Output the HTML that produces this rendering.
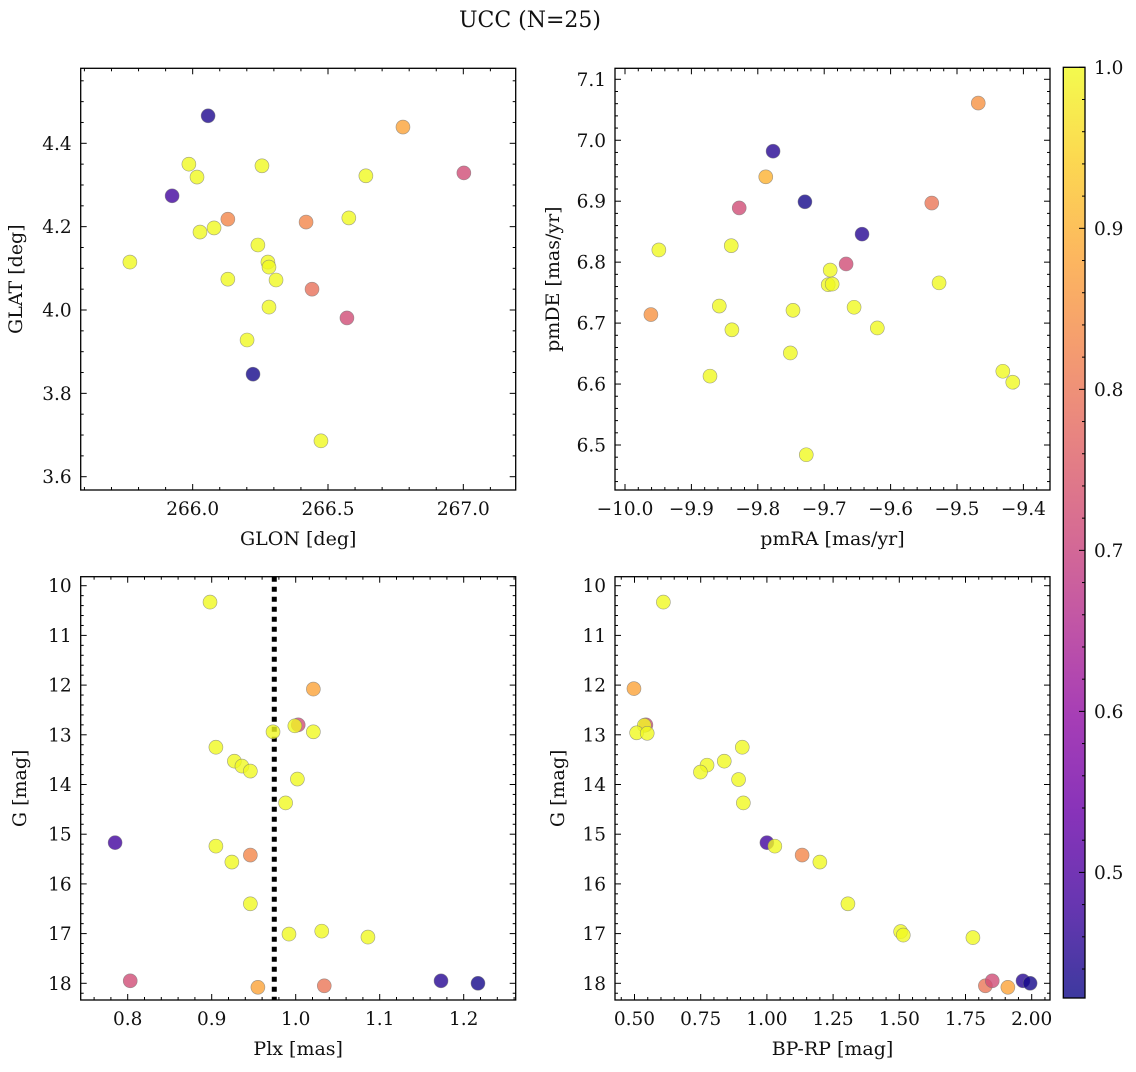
<!DOCTYPE html>
<html><head><meta charset="utf-8"><style>
html,body{margin:0;padding:0;background:#fff;}
svg text{font-family:"DejaVu Serif","Liberation Serif",serif;fill:#111;}
</style></head><body>
<svg id="fig" width="1136" height="1067" viewBox="0 0 1136 1067" xmlns="http://www.w3.org/2000/svg">
<text x="530" y="27" font-size="22" text-anchor="middle">UCC (N=25)</text>
<defs><linearGradient id="cbgrad" x1="0" y1="1" x2="0" y2="0"></linearGradient></defs>
</svg>
<script>
// ---- data ----
const glon = [266.057,265.924,265.986,266.016,265.768,266.027,266.079,266.130,266.256,266.241,266.130,266.278,266.282,266.308,266.282,266.201,266.223,266.419,266.441,266.577,266.640,266.570,266.474,266.777,267.002];
const glat = [4.466,4.274,4.350,4.319,4.115,4.187,4.197,4.218,4.346,4.156,4.074,4.115,4.103,4.072,4.007,3.928,3.846,4.211,4.050,4.221,4.322,3.981,3.686,4.439,4.329];
const probGal = [0.44,0.48,1,1,1,1,1,0.83,1,1,1,1,1,1,1,1,0.43,0.83,0.79,1,1,0.72,1,0.88,0.72];

const pmra = [-9.468,-9.777,-9.788,-9.729,-9.828,-9.538,-9.643,-9.949,-9.840,-9.691,-9.667,-9.694,-9.688,-9.527,-9.858,-9.655,-9.747,-9.961,-9.620,-9.839,-9.751,-9.431,-9.416,-9.872,-9.727];
const pmde = [7.061,6.982,6.940,6.899,6.889,6.897,6.846,6.820,6.827,6.787,6.797,6.763,6.764,6.766,6.728,6.726,6.721,6.714,6.692,6.689,6.651,6.621,6.603,6.613,6.484];
const probPm = [0.85,0.45,0.9,0.43,0.72,0.8,0.45,1,1,1,0.72,1,1,1,1,1,1,0.85,1,1,1,1,1,1,1];

const plx = [0.898,1.021,1.003,0.999,1.021,0.973,0.905,0.927,0.936,0.946,1.002,0.988,0.785,0.905,0.946,0.924,0.946,0.992,1.031,1.086,0.803,0.955,1.034,1.173,1.217];
const gPlx = [10.33,12.08,12.80,12.82,12.94,12.94,13.25,13.53,13.63,13.73,13.89,14.37,15.17,15.24,15.42,15.56,16.40,17.01,16.95,17.07,17.95,18.08,18.05,17.95,18.00];
const probPlx = [1,0.88,0.72,1,1,1,1,1,1,1,1,1,0.48,1,0.83,1,1,1,1,1,0.72,0.88,0.8,0.45,0.43];
const plxMedian = 0.9745;

const bprp = [0.609,0.498,0.543,0.537,0.508,0.548,0.907,0.839,0.774,0.749,0.893,0.911,1.000,1.030,1.133,1.200,1.306,1.505,1.515,1.778,1.825,1.851,1.910,1.967,1.994];
const gCmd = [10.33,12.07,12.80,12.81,12.96,12.97,13.25,13.53,13.61,13.75,13.90,14.37,15.17,15.24,15.42,15.56,16.40,16.96,17.03,17.08,18.05,17.95,18.08,17.95,18.00];
const probCmd = [1,0.88,0.72,1,1,1,1,1,1,1,1,1,0.48,1,0.83,1,1,1,1,1,0.8,0.72,0.88,0.45,0.43];

const ticksGlon = [266.0,266.5,267.0];
const ticksGlat = [3.6,3.8,4.0,4.2,4.4];
const ticksPmra = [-10.0,-9.9,-9.8,-9.7,-9.6,-9.5,-9.4];
const ticksPmde = [6.5,6.6,6.7,6.8,6.9,7.0,7.1];
const ticksPlx = [0.8,0.9,1.0,1.1,1.2];
const ticksG = [10,11,12,13,14,15,16,17,18];
const ticksBprp = [0.50,0.75,1.00,1.25,1.50,1.75,2.00];
const ticksCb = [0.5,0.6,0.7,0.8,0.9,1.0];
const vmin = 0.422, vmax = 1.0;

// ---- helpers ----
const NS = "http://www.w3.org/2000/svg";
const svg = document.getElementById('fig');
function mk(tag, attrs, parent){ const e=document.createElementNS(NS,tag); for(const k in attrs) e.setAttribute(k,attrs[k]); (parent||svg).appendChild(e); return e; }
const plasma = [[13,8,135],[65,4,157],[106,0,168],[143,13,164],[177,42,144],[204,71,120],[225,100,98],[242,132,75],[252,166,54],[252,206,37],[240,249,33]];
function cmap(p){ let t=(p-vmin)/(vmax-vmin); t=Math.max(0,Math.min(1,t)); const f=t*10, i=Math.min(9,Math.floor(f)), r=f-i; const a=plasma[i], b=plasma[i+1];
  return 'rgb('+[0,1,2].map(k=>Math.round(a[k]+(b[k]-a[k])*r)).join(',')+')'; }
const TF = 18.5, LF = 19;

function panel(o){
  const g = mk('g',{});
  
  
  const sx = v => o.x0 + (v-o.xmin)/(o.xmax-o.xmin)*(o.x1-o.x0);
  const sy = o.yinv ? (v => o.y0 + (v-o.ymin)/(o.ymax-o.ymin)*(o.y1-o.y0)) : (v => o.y1 - (v-o.ymin)/(o.ymax-o.ymin)*(o.y1-o.y0));
  const tg = mk('g',{stroke:'#000','stroke-width':1},g);
  function rng(a,b,s){ const r=[]; const st=Math.ceil(a/s-1e-6); for(let k=st; k*s<=b+1e-9; k++) r.push(k*s); return r; }
  rng(o.xmin,o.xmax,o.xminor).forEach(v=>{ const X=sx(v); const maj=o.xt.some(t=>Math.abs(t-v)<1e-6); const L=maj?6:3;
    mk('line',{x1:X,x2:X,y1:o.y1,y2:o.y1-L},tg); mk('line',{x1:X,x2:X,y1:o.y0,y2:o.y0+L},tg); });
  rng(o.ymin,o.ymax,o.yminor).forEach(v=>{ const Y=sy(v); const maj=o.yt.some(t=>Math.abs(t-v)<1e-6); const L=maj?6:3;
    mk('line',{x1:o.x0,x2:o.x0+L,y1:Y,y2:Y},tg); mk('line',{x1:o.x1,x2:o.x1-L,y1:Y,y2:Y},tg); });
  o.xt.forEach(v=>{ const t=mk('text',{x:sx(v),y:o.y1+25,'font-size':TF,'text-anchor':'middle'},g);
     
    t.textContent=(v<0?'\u2212':'')+Math.abs(v).toFixed(o.xdec); });
  o.yt.forEach(v=>{ const t=mk('text',{x:o.x0-9,y:sy(v)+6.5,'font-size':TF,'text-anchor':'end'},g);
     
    t.textContent=v.toFixed(o.ydec); });
  const xl=mk('text',{x:(o.x0+o.x1)/2,y:o.y1+55,'font-size':LF,'text-anchor':'middle'},g);
    xl.textContent=o.xlabel;
  const yl=mk('text',{x:0,y:0,'font-size':LF,'text-anchor':'middle',transform:'translate('+o.ylx+','+((o.y0+o.y1)/2)+') rotate(-90)'},g);
    yl.textContent=o.ylabel;
  if(o.vline!==undefined){ const l=mk('line',{x1:sx(o.vline),x2:sx(o.vline),y1:o.y0,y2:o.y1,stroke:'#000','stroke-width':5,'stroke-dasharray':'5 5'},g);
      }
  o.xs.forEach((v,i)=>{ const c=mk('circle',{cx:sx(v),cy:sy(o.ys[i]),r:7,fill:cmap(o.cs[i]),'fill-opacity':0.8,stroke:'#777','stroke-opacity':0.7,'stroke-width':0.6},g);
      });
  const fr=mk('rect',{x:o.x0,y:o.y0,width:o.x1-o.x0,height:o.y1-o.y0,fill:'none',stroke:'#000','stroke-width':1.3},g);
   
}

panel({name:'glon-glat-panel',x0:80.7,x1:515.7,y0:68.3,y1:490,xmin:266-112/270.7,xmax:267+52.4/270.7,ymin:3.6-13.3/416.7,ymax:4.4+75/416.7,
  xt:ticksGlon,yt:ticksGlat,xminor:0.1,yminor:0.05,xdec:1,ydec:1,xlabel:'GLON [deg]',ylabel:'GLAT [deg]',ylx:22,xs:glon,ys:glat,cs:probGal});
panel({name:'pm-panel',x0:615,x1:1050,y0:68.3,y1:490,xmin:-10-10/664,xmax:-10+425/664,ymin:6.5-45/609.5,ymax:7.1+11/609.5,
  xt:ticksPmra,yt:ticksPmde,xminor:0.02,yminor:0.02,xdec:1,ydec:1,xlabel:'pmRA [mas/yr]',ylabel:'pmDE [mas/yr]',ylx:559,xs:pmra,ys:pmde,cs:probPm});
panel({name:'plx-g-panel',x0:80.7,x1:515.7,y0:576.7,y1:1000,xmin:1.0-215/840,xmax:1.0+220/840,ymin:10-9/49.7,ymax:18+16.7/49.7,yinv:true,
  xt:ticksPlx,yt:ticksG,xminor:0.02,yminor:0.2,xdec:1,ydec:0,xlabel:'Plx [mas]',ylabel:'G [mag]',ylx:26,xs:plx,ys:gPlx,cs:probPlx,vline:plxMedian});
panel({name:'cmd-panel',x0:615,x1:1050,y0:576.7,y1:1000,xmin:0.5-19.5/264.8,xmax:2.0+18.3/264.8,ymin:10-9/49.7,ymax:18+16.7/49.7,yinv:true,
  xt:ticksBprp,yt:ticksG,xminor:0.05,yminor:0.2,xdec:2,ydec:0,xlabel:'BP-RP [mag]',ylabel:'G [mag]',ylx:564,xs:bprp,ys:gCmd,cs:probCmd});

// colorbar
const grad = document.getElementById('cbgrad');
for(let k=0;k<=20;k++){ const p=vmin+(vmax-vmin)*k/20; mk('stop',{offset:(k/20),'stop-color':cmap(p)},grad); }
const cb = mk('g',{});
 
const cbx0=1063.3, cbx1=1085, cby0=67.3, cby1=998;
const cy = v => cby1 - (v-vmin)/(vmax-vmin)*(cby1-cby0);
mk('rect',{x:cbx0,y:cby0,width:cbx1-cbx0,height:cby1-cby0,fill:'url(#cbgrad)','fill-opacity':0.8},cb);
for(let k=Math.ceil(vmin/0.02); k*0.02<=vmax+1e-9; k++){ const v=k*0.02; const Y=cy(v); const maj=ticksCb.some(t=>Math.abs(t-v)<1e-6);
  mk('line',{x1:cbx1,x2:cbx1-(maj?6:3),y1:Y,y2:Y,stroke:'#000','stroke-width':1},cb); }
ticksCb.forEach(v=>{ const t=mk('text',{x:cbx1+9,y:cy(v)+6.5,'font-size':TF},cb);
    t.textContent=v.toFixed(1); });
mk('rect',{x:cbx0,y:cby0,width:cbx1-cbx0,height:cby1-cby0,fill:'none',stroke:'#000','stroke-width':1.3},cb);
</script>
</body></html>
